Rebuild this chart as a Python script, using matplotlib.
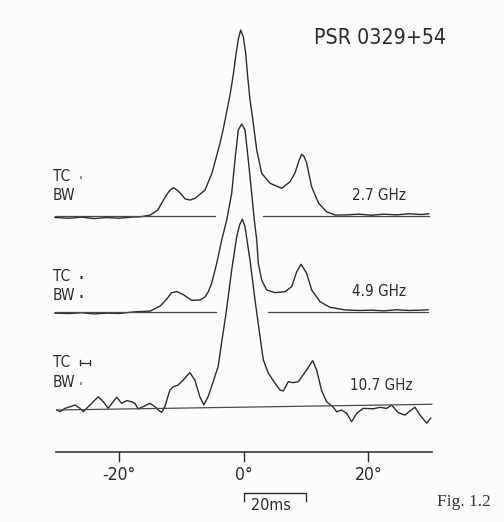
import matplotlib
matplotlib.use("Agg")
import matplotlib.pyplot as plt
from matplotlib import font_manager
from matplotlib.font_manager import FontProperties

# ---------------- data (pulse phase in degrees, normalised intensity) ----------------
phase_27 = [-30.3, -28, -26, -24, -22, -20, -18, -16.5, -15.0, -13.8, -12.4, -11.8, -11.3, -10.8,
            -10.2, -9.4, -8.6, -7.8, -6.2, -5.1, -3.8, -3.27, -2.73, -2.2, -1.67, -1.28, -0.87,
            -0.48, -0.06, 0.32, 0.64, 1.01, 1.41, 2.09, 2.89, 4.22, 6.1, 7.43, 8.23, 8.9, 9.31,
            9.7, 10.1, 10.9, 12.0, 13.3, 14.7, 16.5, 18.5, 20.5, 22.5, 24.5, 26.5, 28.5, 29.7]
amp_27 = [-0.008, -0.012, -0.006, -0.014, -0.008, -0.012, -0.006, -0.004, 0.005, 0.032, 0.113,
          0.14, 0.152, 0.142, 0.124, 0.092, 0.086, 0.095, 0.14, 0.23, 0.391, 0.47, 0.56, 0.65,
          0.76, 0.86, 0.95, 1.0, 0.964, 0.875, 0.749, 0.624, 0.532, 0.355, 0.23, 0.176, 0.149,
          0.184, 0.231, 0.3, 0.332, 0.32, 0.285, 0.158, 0.07, 0.023, 0.005, 0.006, 0.01, 0.004,
          0.01, 0.006, 0.012, 0.008, 0.012]

phase_49 = [-30.3, -28, -26, -24, -22, -20, -17.8, -15.0, -13.4, -12.4, -11.6, -10.75, -9.7,
            -8.35, -7.0, -6.2, -5.68, -5.14, -4.33, -3.53, -2.73, -1.93, -1.4, -0.87, -0.32,
            0.21, 0.74, 1.28, 1.7, 2.09, 2.34, 2.89, 3.69, 5.02, 6.62, 7.7, 8.51, 9.2, 10.11,
            10.91, 12.25, 13.85, 16.26, 18.5, 20.5, 22.5, 24.5, 26.5, 28.5, 29.6]
amp_49 = [-0.006, -0.008, -0.004, -0.01, -0.006, -0.008, 0.0, 0.005, 0.032, 0.067, 0.102, 0.109,
          0.093, 0.062, 0.064, 0.08, 0.108, 0.153, 0.259, 0.383, 0.489, 0.631, 0.809, 0.968, 1.0,
          0.968, 0.809, 0.631, 0.489, 0.383, 0.259, 0.17, 0.117, 0.103, 0.108, 0.135, 0.214,
          0.254, 0.206, 0.117, 0.055, 0.025, 0.011, 0.008, 0.01, 0.006, 0.012, 0.008, 0.01, 0.012]

phase_107 = [-30.0, -29.49, -28.69, -27.89, -27.08, -26.28, -25.75, -24.95, -24.15, -23.35, -22.54,
             -21.74, -20.94, -20.39, -19.59, -18.79, -17.99, -17.46, -16.93, -16.13, -15.06, -14.25,
             -13.72, -13.18, -12.65, -11.85, -11.32, -10.52, -9.72, -8.64, -7.84, -7.04, -6.4,
             -5.71, -5.17, -4.64, -4.11, -3.56, -2.76, -1.93, -1.12, -0.65, -0.22, 0.21, 1.01,
             1.81, 2.62, 3.15, 3.95, 5.02, 5.83, 6.36, 7.16, 7.96, 8.76, 10.11, 11.07, 11.71,
             12.51, 13.32, 14.38, 14.92, 15.72, 16.53, 17.33, 18.13, 19.19, 20.8, 21.87, 22.95,
             23.75, 24.81, 25.88, 27.49, 28.29, 29.37, 30.01]
amp_107 = [0.0, -0.009, 0.008, 0.016, 0.025, 0.007, -0.011, 0.015, 0.041, 0.067, 0.04, 0.005,
           0.04, 0.063, 0.03, 0.044, 0.038, 0.029, -0.001, 0.011, 0.028, 0.01, -0.008, -0.021,
           0.009, 0.097, 0.114, 0.123, 0.149, 0.188, 0.148, 0.059, 0.015, 0.059, 0.111, 0.164,
           0.217, 0.341, 0.518, 0.73, 0.907, 0.97, 1.0, 0.96, 0.782, 0.57, 0.374, 0.25, 0.179,
           0.125, 0.088, 0.083, 0.132, 0.126, 0.131, 0.193, 0.242, 0.192, 0.081, 0.022, -0.008,
           -0.032, -0.023, -0.041, -0.086, -0.042, -0.016, -0.019, -0.012, -0.018, -0.001,
           -0.042, -0.055, -0.014, -0.056, -0.1, -0.074]

freq_labels = ["2.7 GHz", "4.9 GHz", "10.7 GHz"]
tick_vals = [-20, 0, 20]
tick_labels = ["-20°", "0°", "20°"]
tc_widths = [0.3, 0.4, 1.7]     # time-constant widths (deg)
bw_widths = [0.15, 0.4, 0.25]   # bandwidth smearing (deg)
scale_ms = 20
period_ms = 714.5

# ---------------- layout ----------------
W, H = 504, 522
X0, Y0, DEG_PX, UNIT = 243.7, 452.2, 6.23, 188.0
BG = "#fcfcfc"
INK = "#2b2b2b"
GRAY = "#4a4a4a"


def pick_condensed():
    best = None
    for f in font_manager.fontManager.ttflist:
        nm = f.name.lower()
        fn = f.fname.lower()
        cond = (str(f.stretch) in ("condensed", "semi-condensed", "extra-condensed",
                                   "ultra-condensed")
                or "condensed" in nm or "narrow" in nm or "condensed" in fn or "narrow" in fn)
        if not cond:
            continue
        if "mono" in nm or ("serif" in nm and "sans" not in nm):
            continue
        if f.style != "normal":
            continue
        w = f.weight if isinstance(f.weight, int) else 400
        score = abs(w - 400)
        if best is None or score < best[0]:
            best = (score, f.fname)
    return best[1] if best else None


cond_file = pick_condensed()
if cond_file:
    FP = FontProperties(fname=cond_file)
else:
    FP = FontProperties(family=["Roboto", "DejaVu Sans"])

fig = plt.figure(figsize=(W / 100, H / 100), dpi=100, facecolor=BG)
ax = fig.add_axes([0, 0, 1, 1])
ax.set_facecolor(BG)
ax.set_xlim(-X0 / DEG_PX, (W - X0) / DEG_PX)
ax.set_ylim((Y0 - H) / UNIT, Y0 / UNIT)
ax.axis("off")


def py(v):
    return (Y0 - v) / UNIT


def px(v):
    return (v - X0) / DEG_PX


groups = {}


def put(x, y, s, size, group, width_px=None, ha="left", data_x=False):
    xx = x if data_x else px(x)
    t = ax.text(xx, py(y), s, fontproperties=FP.copy(), ha=ha, va="center", color=INK)
    t.set_fontsize(size)
    groups.setdefault(group, {"texts": [], "ref": None, "size": size})
    groups[group]["texts"].append(t)
    if width_px is not None and groups[group]["ref"] is None:
        groups[group]["ref"] = (t, width_px)
    return t


profiles = [
    (phase_27, amp_27, py(216.0), 0.989, 0.0, [(-30.3, -4.6), (3.1, 29.7)]),
    (phase_49, amp_49, py(312.0), 1.0, 0.0, [(-30.3, -4.45), (3.85, 29.6)]),
    (phase_107, amp_107, py(407.15), 1.0, 0.000503, [(-30.0, 30.2)]),
]
label_x = [352.5, 352.5, 349.5]
label_y = [195, 291.7, 385]
tc_y = [176.7, 276.7, 362.7]
bw_y = [195, 296, 382.7]

for i, (ph, am, off, sc, tilt, segs) in enumerate(profiles):
    ys = [off + sc * a + tilt * p for p, a in zip(ph, am)]
    ax.plot(ph, ys, color=INK, lw=1.0, solid_joinstyle="round")
    for a, b in segs:
        ax.plot([a, b], [off + tilt * a, off + tilt * b], color=GRAY, lw=0.9)
    put(label_x[i], label_y[i], freq_labels[i], 13, "ghz", 45)
    put(53, tc_y[i], "TC", 13, "tcbw")
    put(53, bw_y[i], "BW", 13, "tcbw", 19)
    # TC marker
    x0 = px(79.5)
    w = tc_widths[i]
    if w > 1:
        ax.plot([x0, x0 + w], [py(tc_y[i])] * 2, color=INK, lw=0.9)
        for xe in (x0, x0 + w):
            ax.plot([xe, xe], [py(tc_y[i] - 2.5), py(tc_y[i] + 2.5)], color=INK, lw=0.9)
    else:
        ax.plot([x0, x0 + w], [py(tc_y[i])] * 2, color=INK, lw=2.2, solid_capstyle="butt")
    wb = bw_widths[i]
    ax.plot([x0, x0 + wb], [py(bw_y[i])] * 2, color=INK, lw=2.2, solid_capstyle="butt")

# axis
ax.plot([-30.1, 30.2], [0, 0], color=INK, lw=1.1)
for t, lab in zip(tick_vals, tick_labels):
    ax.plot([t, t], [0, py(461)], color=INK, lw=1.0)
    put(t, 475, lab, 14.5, "ticks", 29 if lab.startswith("-") else None, ha="center",
        data_x=True)

# scale bar
bar = scale_ms / period_ms * 360
ax.plot([0, 0, bar, bar], [py(501), py(493.3), py(493.3), py(501)], color=INK, lw=1.0)
put(251, 506, f"{scale_ms}ms", 14, "ms", 33)

# title and figure number
put(314, 37.5, "PSR 0329+54", 18, "title", 113)
ax.text(px(437), py(502), "Fig. 1.2", family=["Liberation Serif", "DejaVu Serif"],
        fontsize=12.5, color="#333333", ha="left", va="center")

# compromise between reference widths (condensed face) and reference heights
fig.canvas.draw()
rend = fig.canvas.get_renderer()
for g in groups.values():
    if g["ref"] is None:
        continue
    t, tw = g["ref"]
    wpx = t.get_window_extent(rend).width
    if wpx > 0:
        new = min(g["size"] * (tw / wpx) ** 0.5, g["size"] * 1.1)
        for tt in g["texts"]:
            tt.set_fontsize(new)

fig.savefig("out.png", dpi=100, facecolor=BG)
